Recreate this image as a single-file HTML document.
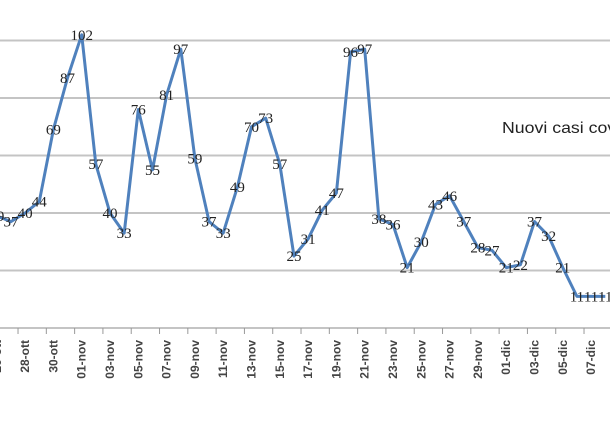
<!DOCTYPE html>
<html><head><meta charset="utf-8"><style>
html,body{margin:0;padding:0;background:#fff;overflow:hidden;}
svg{display:block;}
</style></head><body>
<svg id="chart" width="610" height="431" viewBox="0 0 610 431" xmlns="http://www.w3.org/2000/svg">
<g id="grid"></g>
<g id="axis"></g>
<g id="series"></g>
<text x="502" y="133" font-family="Liberation Sans, sans-serif" font-size="16" fill="#222" textLength="128" lengthAdjust="spacingAndGlyphs">Nuovi casi covid</text>
</svg>
<script>
const values = [39,37,40,44,69,87,102,57,40,33,76,55,81,97,59,37,33,49,70,73,57,25,31,41,47,96,97,38,36,21,30,43,46,37,28,27,21,22,37,32,21,11,11,11];
const tickLabels = ["26-ott","28-ott","30-ott","01-nov","03-nov","05-nov","07-nov","09-nov","11-nov","13-nov","15-nov","17-nov","19-nov","21-nov","23-nov","25-nov","27-nov","29-nov","01-dic","03-dic","05-dic","07-dic"];
const gridValues = [20,40,60,80,100];

const NS="http://www.w3.org/2000/svg";
function xs(i){return -3.2 + i*14.15;}
function ys(v){return 328 - v*2.875;}
function mk(tag,attrs,parent){const e=document.createElementNS(NS,tag);for(const k in attrs)e.setAttribute(k,attrs[k]);parent.appendChild(e);return e;}

const grid=document.getElementById('grid');
gridValues.forEach(v=>{
  const l=mk('line',{x1:0,x2:610,y1:ys(v),y2:ys(v),stroke:'#c4c4c4','stroke-width':2},grid);
  
  
});
const axis=document.getElementById('axis');
const al=mk('line',{x1:0,x2:610,y1:ys(0),y2:ys(0),stroke:'#c4c4c4','stroke-width':2},axis);


for(let k=0;k<23;k++){
  const tx=xs(2*k+1.5);
  const t=mk('line',{x1:tx,x2:tx,y1:ys(0),y2:ys(0)+6,stroke:'#999','stroke-width':1},axis);
  
  
}
tickLabels.forEach((lab,k)=>{
  const x=xs(2*k)+4;
  const t=mk('text',{x:0,y:0,transform:`translate(${x},340) rotate(-90)`,'text-anchor':'end','font-family':'Liberation Sans, sans-serif','font-size':'12','font-weight':'bold',fill:'#444'},axis);
  t.textContent=lab;
  
  
});
const series=document.getElementById('series');
const pts=values.map((v,i)=>xs(i).toFixed(1)+','+ys(v).toFixed(1)).join(' ');
const pl=mk('polyline',{points:pts,fill:'none',stroke:'#4f81bd','stroke-width':3,'stroke-linejoin':'round'},series);


values.forEach((v,i)=>{
  const t=mk('text',{x:xs(i),y:ys(v)+5,'text-anchor':'middle','font-family':'Liberation Serif, serif','font-size':'15',fill:'#222'},series);
  t.textContent=v;
  
  
});
</script>
</body></html>
